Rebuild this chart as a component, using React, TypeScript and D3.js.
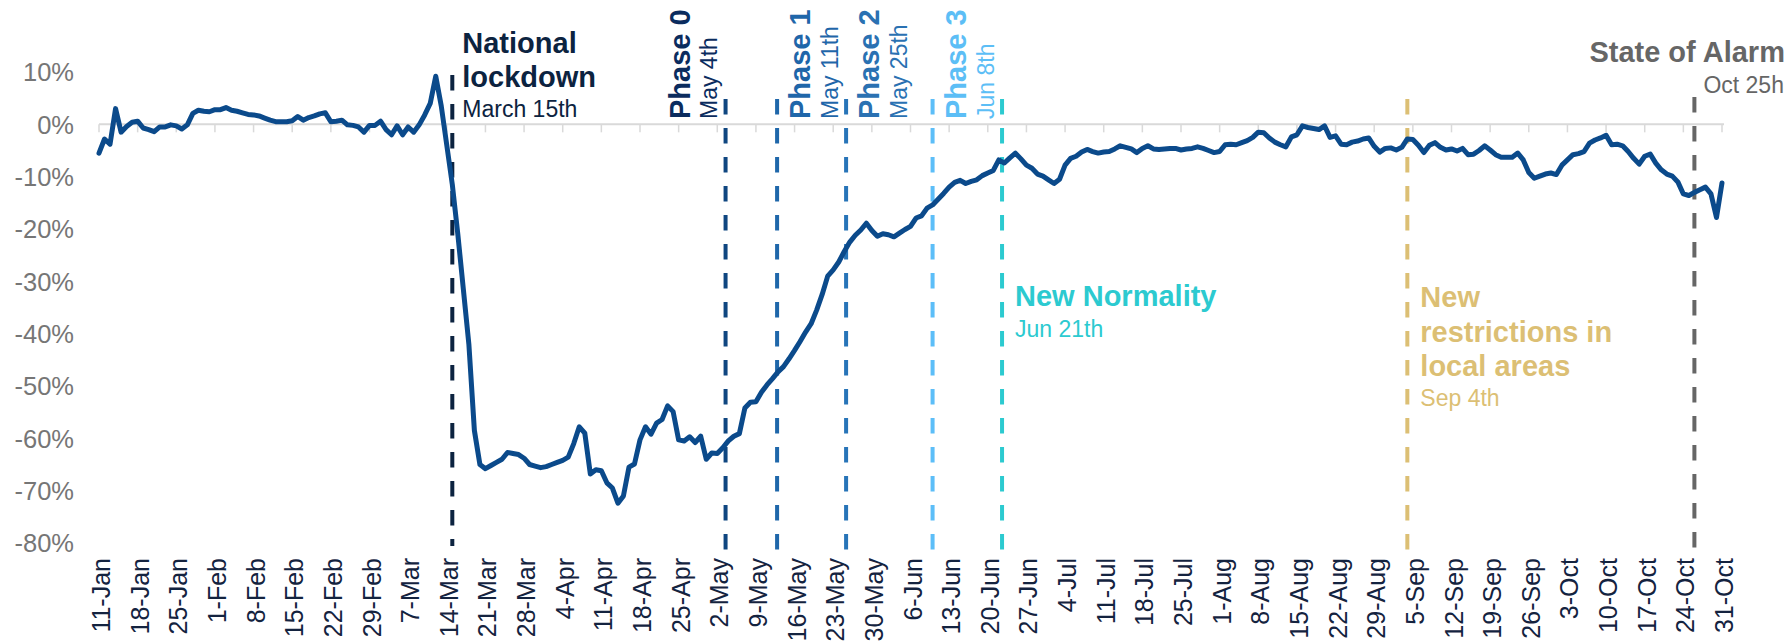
import React from "react";
import * as d3 from "d3";

// ---------- DATA ----------
const startDate = "2020-01-11";
// daily % change vs baseline, from 11-Jan to 31-Oct
const values: number[] = [
  -5.5, -2.8, -3.8, 3.0, -1.5, -0.4, 0.4, 0.6, -0.7, -1.0,
  -1.4, -0.5, -0.5, -0.1, -0.3, -0.9, -0.1, 2.1, 2.7, 2.5,
  2.4, 2.8, 2.8, 3.2, 2.7, 2.5, 2.2, 1.9, 1.8, 1.6,
  1.2, 0.8, 0.5, 0.5, 0.5, 0.7, 1.5, 0.8, 1.3, 1.6,
  2.0, 2.2, 0.5, 0.6, 0.8, -0.1, -0.2, -0.5, -1.5, -0.2,
  -0.2, 0.6, -1.0, -2.0, -0.3, -2.0, -0.5, -1.5, -0.1, 1.8,
  4.0, 9.2, 3.5, -4.0, -11.5, -21.0, -31.5, -42.0, -58.5, -65.0,
  -65.8, -65.2, -64.6, -64.0, -62.7, -62.9, -63.1, -63.8, -65.0, -65.3,
  -65.6, -65.4, -65.0, -64.6, -64.2, -63.6, -61.0, -57.8, -59.0, -66.8,
  -66.0, -66.2, -68.5, -69.5, -72.4, -71.0, -65.5, -64.9, -60.3, -57.8,
  -59.2, -57.1, -56.4, -53.8, -54.9, -60.3, -60.5, -59.7, -60.8, -59.6,
  -64.0, -62.8, -62.9, -61.8, -60.5, -59.6, -59.1, -54.2, -53.1, -53.0,
  -51.2, -49.8, -48.6, -47.3, -46.3, -44.8, -43.2, -41.5, -39.7, -38.1,
  -35.5, -32.5, -29.0, -27.8, -26.3, -24.3, -22.5, -21.2, -20.2, -18.9,
  -20.3, -21.4, -20.9, -21.1, -21.5, -20.8, -20.1, -19.5, -17.9, -17.5,
  -16.0, -15.4, -14.3, -13.2, -12.0, -11.1, -10.7, -11.3, -10.9, -10.6,
  -9.8, -9.3, -8.8, -6.8, -7.4, -6.4, -5.5, -6.6, -7.8, -8.4,
  -9.5, -9.9, -10.6, -11.3, -10.5, -7.8, -6.5, -6.1, -5.3, -4.8,
  -5.2, -5.5, -5.3, -5.2, -4.7, -4.1, -4.4, -4.7, -5.4, -4.6,
  -4.1, -4.7, -4.8, -4.7, -4.6, -4.6, -4.9, -4.7, -4.6, -4.3,
  -4.6, -5.0, -5.4, -5.2, -3.9, -3.8, -3.9, -3.5, -3.1, -2.5,
  -1.5, -1.6, -2.6, -3.4, -3.9, -4.3, -2.4, -2.0, -0.3, -0.6,
  -0.8, -1.0, -0.3, -2.5, -2.2, -3.8, -3.9, -3.4, -3.2, -2.8,
  -2.6, -4.2, -5.3, -4.6, -4.5, -4.9, -4.4, -2.8, -2.9, -4.0,
  -5.4, -4.0, -3.5, -4.4, -4.9, -4.7, -5.1, -4.6, -5.8, -5.7,
  -5.0, -4.1, -4.9, -5.8, -6.3, -6.3, -6.3, -5.5, -6.8, -9.2,
  -10.3, -9.9, -9.5, -9.3, -9.6, -7.8, -6.8, -5.8, -5.6, -5.2,
  -3.6, -3.0, -2.6, -2.1, -3.9, -3.8, -4.1, -5.2, -6.5, -7.6,
  -6.1, -5.7, -7.4, -8.7, -9.5, -9.9, -11.0, -13.3, -13.6, -13.0,
  -12.5, -12.0, -13.3, -17.8, -11.2,
];

const xTickLabels = [
  "11-Jan", "18-Jan", "25-Jan", "1-Feb", "8-Feb", "15-Feb", "22-Feb", "29-Feb",
  "7-Mar", "14-Mar", "21-Mar", "28-Mar", "4-Apr", "11-Apr", "18-Apr", "25-Apr",
  "2-May", "9-May", "16-May", "23-May", "30-May", "6-Jun", "13-Jun", "20-Jun",
  "27-Jun", "4-Jul", "11-Jul", "18-Jul", "25-Jul", "1-Aug", "8-Aug", "15-Aug",
  "22-Aug", "29-Aug", "5-Sep", "12-Sep", "19-Sep", "26-Sep", "3-Oct", "10-Oct",
  "17-Oct", "24-Oct", "31-Oct",
];

const yTicks = [10, 0, -10, -20, -30, -40, -50, -60, -70, -80];

// event markers (dates where the dashed line was placed)
const eventDates = [
  "2020-03-15T00:00", "2020-05-03T12:00", "2020-05-12T20:00", "2020-05-25T08:00",
  "2020-06-10T00:00", "2020-06-22T14:00", "2020-09-04T00:00", "2020-10-26T00:00",
];
const eventTitles = [
  ["National", "lockdown"], ["Phase 0"], ["Phase 1"], ["Phase 2"], ["Phase 3"],
  ["New Normality"], ["New", "restrictions in", "local areas"], ["State of Alarm"],
];
const eventSubtitles = [
  "March 15th", "May 4th", "May 11th", "May 25th", "Jun 8th", "Jun 21th", "Sep 4th", "Oct 25h",
];

// ---------- STYLE ----------
const FONT = "'Liberation Sans', Arial, Helvetica, sans-serif";
const W = 1789;
const H = 643;
const eventColors = [
  { line: "#0c2340", text: "#0c2340" },
  { line: "#0f4680", text: "#0b2c5e" },
  { line: "#1f67aa", text: "#1f66a9" },
  { line: "#2774b8", text: "#2a71b2" },
  { line: "#5cbef8", text: "#5cbef6" },
  { line: "#2ccad0", text: "#2ccad0" },
  { line: "#dcbf74", text: "#dcbf74" },
  { line: "#666666", text: "#666666" },
];

export default function App() {
  const parseDay = d3.timeParse("%Y-%m-%d");
  const parseEvt = d3.timeParse("%Y-%m-%dT%H:%M");
  const parseTick = d3.timeParse("%d-%b-%Y");
  const start = parseDay(startDate) as Date;
  const series = values.map((v, i) => ({ date: d3.timeDay.offset(start, i), value: v }));
  const end = series[series.length - 1].date;

  const x = d3.scaleTime().domain([start, end]).range([99, 1722]);
  const y = d3.scaleLinear().domain([-80, 10]).range([543, 72]);

  const line = d3
    .line<{ date: Date; value: number }>()
    .x((d) => x(d.date))
    .y((d) => y(d.value));

  const ticks = xTickLabels.map((l) => ({ label: l, date: parseTick(l + "-2020") as Date }));
  const evX = eventDates.map((d) => x(parseEvt(d) as Date));
  const y0 = y(0);
  const dash = "15.5 13.5";

  const bold = { fontFamily: FONT, fontWeight: 700, fontSize: 29 } as const;
  const reg = { fontFamily: FONT, fontWeight: 400, fontSize: 23 } as const;

  return (
    <svg width={W} height={H} style={{ position: "absolute", left: 0, top: 0, background: "#fff" }}>
      <rect width={W} height={H} fill="#ffffff" />
      {/* y labels */}
      {yTicks.map((t) => (
        <text
          key={t}
          x={74}
          y={y(t)}
          dy="0.36em"
          textAnchor="end"
          fill="#767676"
          style={{ fontFamily: FONT, fontSize: 25.5 }}
        >
          {`${t}%`}
        </text>
      ))}
      {/* zero axis */}
      <line x1={x(start)} x2={1724} y1={y0} y2={y0} stroke="#d9d9d9" strokeWidth={2} />
      {ticks.map((t) => (
        <line
          key={t.label}
          x1={x(t.date)}
          x2={x(t.date)}
          y1={y0}
          y2={y0 + 8}
          stroke="#d9d9d9"
          strokeWidth={1.5}
        />
      ))}
      {/* x labels */}
      {ticks.map((t) => (
        <text
          key={t.label}
          transform={`translate(${x(t.date) + 2},558) rotate(-90)`}
          textAnchor="end"
          dy="0.36em"
          fill="#14233f"
          style={{ fontFamily: FONT, fontSize: 25 }}
        >
          {t.label}
        </text>
      ))}

      {/* event lines */}
      {evX.map((ex, i) => {
        const top = i === 0 ? 75 : i === 7 ? 97 : 99;
        const bottom = i === 0 ? 546 : 553;
        return (
          <line
            key={"ev" + i}
            x1={ex}
            x2={ex}
            y1={top}
            y2={bottom}
            stroke={eventColors[i].line}
            strokeWidth={4}
            strokeDasharray={dash}
          />
        );
      })}

      {/* data line */}
      <path
        d={line(series) || ""}
        fill="none"
        stroke="#0b4a8b"
        strokeWidth={5}
        strokeLinejoin="round"
        strokeLinecap="round"
      />

      {/* National lockdown */}
      <text x={evX[0] + 10} y={53} fill={eventColors[0].text} style={bold}>
        {eventTitles[0][0]}
      </text>
      <text x={evX[0] + 10} y={87} fill={eventColors[0].text} style={bold}>
        {eventTitles[0][1]}
      </text>
      <text x={evX[0] + 10} y={117} fill={eventColors[0].text} style={reg}>
        {eventSubtitles[0]}
      </text>

      {/* Phases (rotated) */}
      {[1, 2, 3, 4].map((i) => {
        const left = i === 1;
        const tx = left ? evX[i] - 36 : evX[i] + 33;
        const sx = left ? evX[i] - 9 : evX[i] + 61;
        return (
          <g key={"ph" + i}>
            <text transform={`translate(${tx},119) rotate(-90)`} fill={eventColors[i].text} style={bold}>
              {eventTitles[i][0]}
            </text>
            <text transform={`translate(${sx},119) rotate(-90)`} fill={eventColors[i].text} style={reg}>
              {eventSubtitles[i]}
            </text>
          </g>
        );
      })}

      {/* New Normality */}
      <text x={evX[5] + 13} y={306} fill={eventColors[5].text} style={bold}>
        {eventTitles[5][0]}
      </text>
      <text x={evX[5] + 13} y={337} fill={eventColors[5].text} style={reg}>
        {eventSubtitles[5]}
      </text>

      {/* New restrictions */}
      {eventTitles[6].map((t, k) => (
        <text key={t} x={evX[6] + 13} y={307 + k * 34.5} fill={eventColors[6].text} style={bold}>
          {t}
        </text>
      ))}
      <text x={evX[6] + 13} y={406} fill={eventColors[6].text} style={reg}>
        {eventSubtitles[6]}
      </text>

      {/* State of Alarm */}
      <text x={evX[7] - 105} y={62} fill={eventColors[7].text} style={bold}>
        {eventTitles[7][0]}
      </text>
      <text x={evX[7] + 9} y={93} fill={eventColors[7].text} style={reg}>
        {eventSubtitles[7]}
      </text>
    </svg>
  );
}
